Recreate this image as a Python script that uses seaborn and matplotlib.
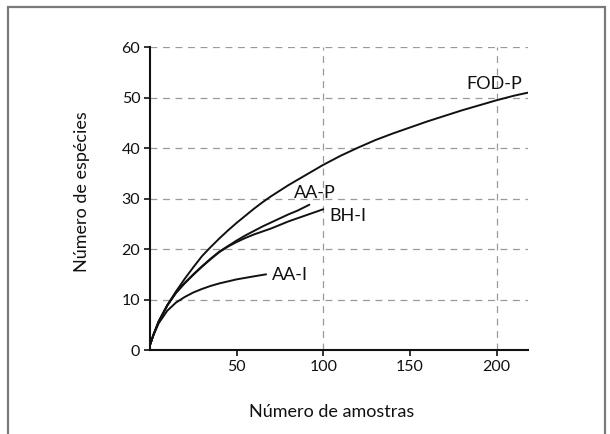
import matplotlib
matplotlib.use('Agg')
import matplotlib.pyplot as plt
import pandas as pd
import seaborn as sns
from matplotlib.patches import Rectangle

# curvas de acumulação de espécies
fod_x = [0, 1, 2, 5, 10, 15, 20, 25, 30, 35, 40, 45, 50, 55, 60, 65, 70, 75, 80, 85, 90, 95, 100,
         110, 120, 130, 140, 150, 160, 170, 180, 190, 200, 210, 218]
fod_y = [1, 2.0, 3.0, 5.6, 8.9, 11.6, 14.1, 16.4, 18.6, 20.4, 22.1, 23.7, 25.2, 26.6, 28.0, 29.3, 30.5,
         31.6, 32.7, 33.7, 34.7, 35.7, 36.7, 38.5, 40.1, 41.6, 42.9, 44.1, 45.3, 46.4, 47.5, 48.5,
         49.5, 50.4, 51.0]

aap_x = [0, 1, 2, 5, 10, 15, 20, 25, 30, 35, 40, 45, 50, 55, 60, 65, 70, 75, 80, 85, 92]
aap_y = [1, 2.0, 3.0, 5.7, 8.9, 11.4, 13.3, 15.0, 16.6, 18.1, 19.5, 20.6, 21.7, 22.7, 23.6, 24.5,
         25.3, 26.1, 26.9, 27.6, 28.8]

bhi_x = [0, 1, 2, 5, 10, 15, 20, 25, 30, 35, 40, 45, 50, 55, 60, 65, 70, 75, 80, 85, 90, 95, 100]
bhi_y = [1, 2.0, 3.0, 5.6, 8.8, 11.3, 13.2, 14.9, 16.5, 18.0, 19.4, 20.5, 21.4, 22.2, 22.9, 23.5,
         24.1, 24.8, 25.5, 26.1, 26.7, 27.3, 27.9]

aai_x = [0, 1, 2, 5, 10, 15, 20, 25, 30, 35, 40, 45, 50, 55, 60, 67]
aai_y = [1, 2.0, 3.0, 5.3, 7.8, 9.4, 10.5, 11.4, 12.1, 12.7, 13.2, 13.6, 14.0, 14.3, 14.6, 15.0]

nomes = ['FOD-P', 'AA-P', 'BH-I', 'AA-I']
xticks = [50, 100, 150, 200]
yticks = [0, 10, 20, 30, 40, 50, 60]

frames = []
for nome, xs, ys in zip(nomes, [fod_x, aap_x, bhi_x, aai_x], [fod_y, aap_y, bhi_y, aai_y]):
    frames.append(pd.DataFrame({'amostras': xs, 'especies': ys, 'curva': nome}))
df = pd.concat(frames, ignore_index=True)

sns.set_style('white')
plt.rcParams['font.family'] = ['Lato', 'DejaVu Sans']

fig = plt.figure(figsize=(6.1, 4.34), dpi=100)
ax = fig.add_axes([150 / 610, 1 - 350 / 434, 377.7 / 610, 302.7 / 434])

# grade tracejada
for yv in yticks[1:]:
    ax.axhline(yv, color='#9a9a9a', lw=0.9, ls=(0, (5.5, 4.5)), zorder=1)
for xv in [100, 200]:
    ax.axvline(xv, color='#9a9a9a', lw=0.9, ls=(0, (5.5, 4.5)), zorder=1)

sns.lineplot(data=df, x='amostras', y='especies', units='curva', estimator=None,
             sort=False, color='#111111', lw=1.4, ax=ax, zorder=3)

# rótulos das curvas
ax.text(198.9, 52.8, 'FOD-P', ha='center', va='center', fontsize=13, color='#111111')
ax.text(95.2, 31.1, 'AA-P', ha='center', va='center', fontsize=13, color='#111111')
ax.text(114.3, 26.6, 'BH-I', ha='center', va='center', fontsize=13, color='#111111')
ax.text(81, 14.85, 'AA-I', ha='center', va='center', fontsize=13, color='#111111')

ax.set_xlim(0, 218)
ax.set_ylim(0, 60)
ax.set_xticks(xticks)
ax.set_yticks(yticks)
ax.tick_params(axis='both', labelsize=11.5, colors='#111111', length=4, width=1.2,
               direction='out', pad=3, bottom=True, left=True)

sns.despine(ax=ax)
for s in ['left', 'bottom']:
    ax.spines[s].set_color('#111111')
    ax.spines[s].set_linewidth(1.5)

ax.set_xlabel('Número de amostras', fontsize=13, color='#111111')
ax.set_ylabel('Número de espécies', fontsize=13, color='#111111')
ax.xaxis.set_label_coords((331.5 - 150) / 377.7, (350 - 412) / 302.7)
ax.xaxis.label.set_va('center')
ax.yaxis.set_label_coords((81.7 - 150) / 377.7, (350 - 192) / 302.7)
ax.yaxis.label.set_va('center')

# moldura cinza em volta da figura
fig.patches.append(Rectangle((7.5 / 610, -0.05), (605 - 7.5) / 610, 1 - 7 / 434 + 0.05,
                             transform=fig.transFigure, fill=False, edgecolor='#7a7a7a',
                             lw=1.6, clip_on=False))

fig.savefig('out.png', dpi=100)
